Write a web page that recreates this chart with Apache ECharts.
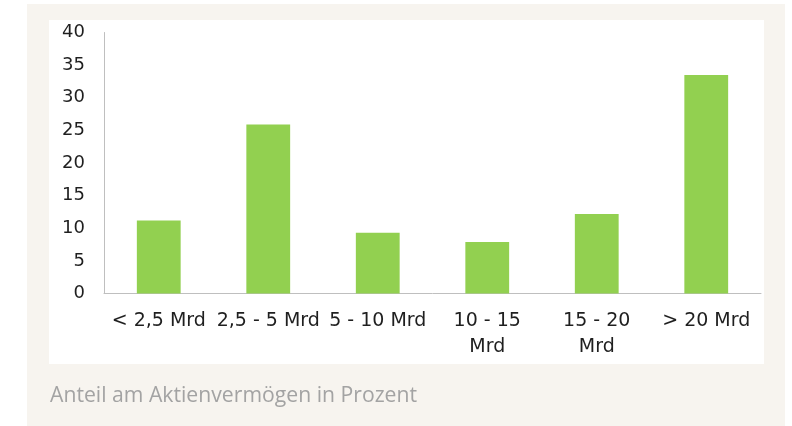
<!DOCTYPE html>
<html>
<head>
<meta charset="utf-8">
<script src="https://cdn.jsdelivr.net/npm/echarts@6/dist/echarts.min.js"></script>
<style>
html,body{margin:0;padding:0;background:#ffffff;}
#chart{width:792px;height:426px;}
</style>
</head>
<body>
<div id="chart"></div>
<script>
const categories = ['< 2,5 Mrd', '2,5 - 5 Mrd', '5 - 10 Mrd', '10 - 15\nMrd', '15 - 20\nMrd', '> 20 Mrd'];
const values = [11.2, 25.9, 9.3, 7.9, 12.2, 33.5];
const yTicks = [0, 5, 10, 15, 20, 25, 30, 35, 40];
const caption = 'Anteil am Aktienvermögen in Prozent';

const chart = echarts.init(document.getElementById('chart'), null, {renderer: 'canvas'});
chart.setOption({
  animation: false,
  backgroundColor: '#ffffff',
  graphic: [
    {type: 'rect', z: -10, silent: true, shape: {x: 27, y: 4, width: 758, height: 422}, style: {fill: '#f7f4ef'}},
    {type: 'rect', z: -9, silent: true, shape: {x: 49, y: 20, width: 715, height: 344}, style: {fill: '#ffffff'}},
    {type: 'text', left: 50, top: 385, style: {text: caption, fill: '#a3a3a3', font: '21.2px "Open Sans"'}}
  ],
  grid: {left: 104, right: 31, top: 32.5, bottom: 132.5, containLabel: false},
  xAxis: {
    type: 'category',
    data: categories,
    axisLine: {show: true, lineStyle: {color: '#bfbfbf', width: 1}},
    axisTick: {show: false},
    axisLabel: {interval: 0, color: '#1f1f1f', fontFamily: 'DejaVu Sans', fontSize: 19, lineHeight: 26, margin: 15}
  },
  yAxis: {
    type: 'value',
    min: yTicks[0],
    max: yTicks[yTicks.length - 1],
    interval: 5,
    splitLine: {show: false},
    axisLine: {show: true, lineStyle: {color: '#bfbfbf', width: 1}},
    axisTick: {show: false},
    axisLabel: {color: '#1f1f1f', fontFamily: 'DejaVu Sans', fontSize: 18, margin: 19}
  },
  series: [{
    type: 'bar',
    data: values,
    barWidth: '40%',
    itemStyle: {color: '#92d050'}
  }]
});
</script>
</body>
</html>
